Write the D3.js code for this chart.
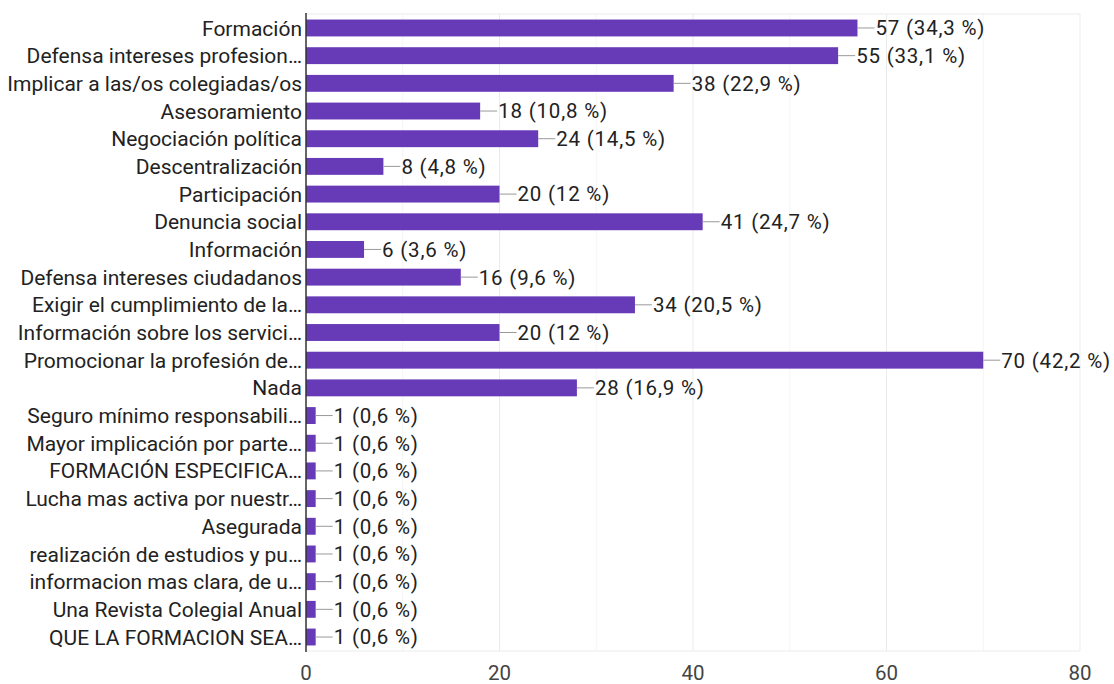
<!DOCTYPE html>
<html>
<head>
<meta charset="utf-8">
<script src="https://cdn.jsdelivr.net/npm/d3@7"></script>
<style>
  body { margin: 0; background: #fff; }
  text { font-family: Roboto, Arial, sans-serif; }
</style>
</head>
<body>
<script>
// answers and counts
var categories = [
  "Formación",
  "Defensa intereses profesion…",
  "Implicar a las/os colegiadas/os",
  "Asesoramiento",
  "Negociación política",
  "Descentralización",
  "Participación",
  "Denuncia social",
  "Información",
  "Defensa intereses ciudadanos",
  "Exigir el cumplimiento de la…",
  "Información sobre los servici…",
  "Promocionar la profesión de…",
  "Nada",
  "Seguro mínimo responsabili…",
  "Mayor implicación por parte…",
  "FORMACIÓN ESPECIFICA…",
  "Lucha mas activa por nuestr…",
  "Asegurada",
  "realización de estudios y pu…",
  "informacion mas clara, de u…",
  "Una Revista Colegial Anual",
  "QUE LA FORMACION SEA…"
];
var counts = [57, 55, 38, 18, 24, 8, 20, 41, 6, 16, 34, 20, 70, 28, 1, 1, 1, 1, 1, 1, 1, 1, 1];
var percents = ["34,3", "33,1", "22,9", "10,8", "14,5", "4,8", "12", "24,7", "3,6", "9,6", "20,5", "12", "42,2", "16,9",
  "0,6", "0,6", "0,6", "0,6", "0,6", "0,6", "0,6", "0,6", "0,6"];
var xTicks = [0, 20, 40, 60, 80];
var xMinor = [10, 30, 50, 70];

var data = categories.map(function(c, i) {
  return { cat: c, n: counts[i], pct: percents[i] };
});

var W = 1114, H = 684;
var margin = { top: 14, right: 34, bottom: 33, left: 306 };
var width = W - margin.left - margin.right,
    height = H - margin.top - margin.bottom;

var svg = d3.select("body").append("svg")
    .attr("width", W)
    .attr("height", H)
  .append("g")
    .attr("transform", "translate(" + margin.left + "," + margin.top + ")");

var x = d3.scaleLinear().domain([0, 80]).range([0, width]);
var y = d3.scaleBand().domain(categories).range([0, height]).paddingInner(0.39).paddingOuter(0.2);

var fs = 20.5;

// minor grid
svg.selectAll(".minor").data(xMinor).enter().append("line")
    .attr("x1", d => x(d)).attr("x2", d => x(d))
    .attr("y1", 0).attr("y2", height)
    .attr("stroke", "#f5f5f5").attr("stroke-width", 1);

// major grid
svg.selectAll(".major").data(xTicks.slice(1)).enter().append("line")
    .attr("x1", d => x(d)).attr("x2", d => x(d))
    .attr("y1", 0).attr("y2", height)
    .attr("stroke", "#ebebeb").attr("stroke-width", 1);

// top + bottom frame lines
svg.selectAll(".hline").data([0, height]).enter().append("line")
    .attr("x1", 0).attr("x2", x(80))
    .attr("y1", d => d).attr("y2", d => d)
    .attr("stroke", "#ebebeb");

// x tick labels
svg.selectAll(".xt").data(xTicks).enter().append("text")
    .attr("x", d => x(d))
    .attr("y", height + 29)
    .attr("text-anchor", "middle")
    .attr("font-size", fs)
    .attr("fill", "#444")
    .text(d => d);

// bars
svg.selectAll(".bar").data(data).enter().append("rect")
    .attr("x", 0)
    .attr("y", d => y(d.cat))
    .attr("width", d => x(d.n))
    .attr("height", y.bandwidth())
    .attr("fill", "#673ab7");

// connector lines
svg.selectAll(".conn").data(data).enter().append("line")
    .attr("x1", d => x(d.n)).attr("x2", d => x(d.n) + 17)
    .attr("y1", d => y(d.cat) + y.bandwidth() / 2)
    .attr("y2", d => y(d.cat) + y.bandwidth() / 2)
    .attr("stroke", "#999").attr("stroke-width", 1);

// value labels
svg.selectAll(".val").data(data).enter().append("text")
    .attr("x", d => x(d.n) + 18)
    .attr("y", d => y(d.cat) + y.bandwidth() / 2)
    .attr("dy", "0.36em")
    .attr("font-size", fs)
    .attr("letter-spacing", "0.8px")
    .attr("fill", "#222")
    .text(d => d.n + " (" + d.pct + " %)");

// category labels
svg.selectAll(".cat").data(data).enter().append("text")
    .attr("x", -4)
    .attr("y", d => y(d.cat) + y.bandwidth() / 2)
    .attr("dy", "0.36em")
    .attr("text-anchor", "end")
    .attr("font-size", 21)
    .attr("fill", "#222")
    .text(d => d.cat);

// baseline axis
svg.append("line")
    .attr("x1", 0).attr("x2", 0)
    .attr("y1", -1).attr("y2", height + 1)
    .attr("stroke", "#333").attr("stroke-width", 1.5);
</script>
</body>
</html>
